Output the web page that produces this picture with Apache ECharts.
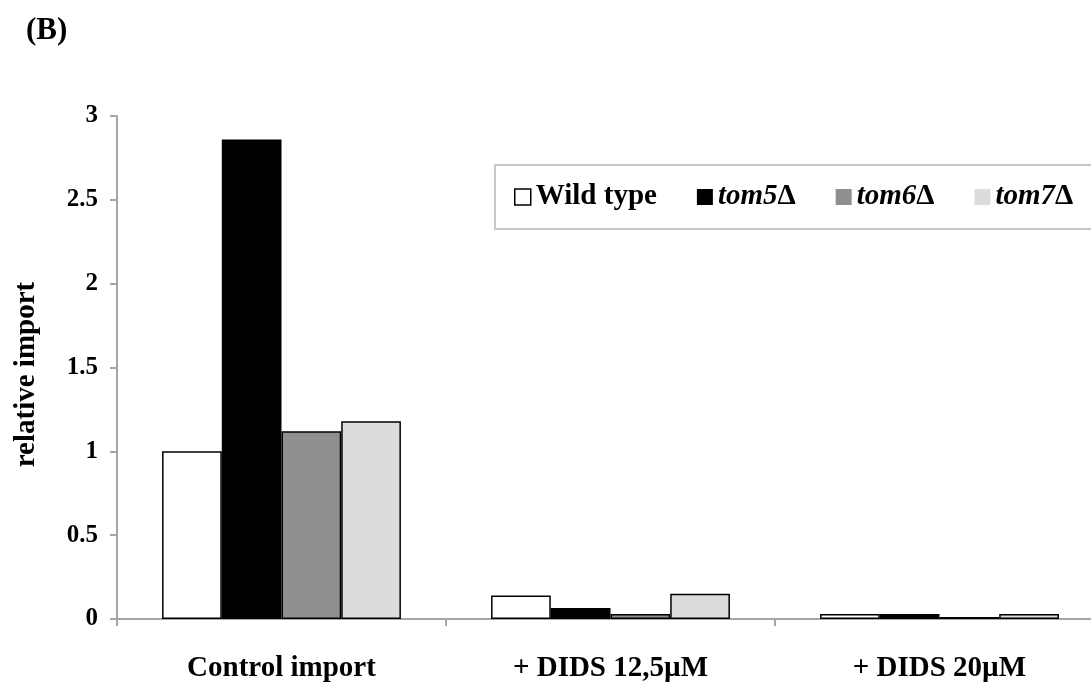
<!DOCTYPE html>
<html>
<head>
<meta charset="utf-8">
<script src="https://cdn.jsdelivr.net/npm/echarts@6/dist/echarts.min.js"></script>
<style>
html,body{margin:0;padding:0;background:#fff;}
#chart{width:1091px;height:684px;}
</style>
</head>
<body>
<div id="chart"></div>
<script>
const categories = ['Control import', '+ DIDS 12,5µM', '+ DIDS 20µM'];
const seriesNames = ['Wild type', 'tom5Δ', 'tom6Δ', 'tom7Δ'];
const wildType = [1.0, 0.14, 0.03];
const tom5 = [2.86, 0.065, 0.03];
const tom6 = [1.12, 0.03, 0.012];
const tom7 = [1.18, 0.15, 0.03];
const yTicks = [0, 0.5, 1, 1.5, 2, 2.5, 3];

const colors = ['#ffffff', '#000000', '#8f8f8f', '#dcdcdc'];
const values = [wildType, tom5, tom6, tom7];
const font = 'Liberation Serif, Times New Roman, serif';
const axisGray = '#a6a6a6';
const legendText = { fontFamily: font, fontSize: 29, fontWeight: 'bold', color: '#000', lineHeight: 30 };

const chart = echarts.init(document.getElementById('chart'));
chart.setOption({
  animation: false,
  backgroundColor: '#fff',
  title: {
    text: '(B)', left: 26, top: 15, padding: 0,
    textStyle: { fontFamily: font, fontSize: 31, fontWeight: 'bold', color: '#000' }
  },
  legend: {
    left: 495, top: 165, width: 620,
    padding: [17, 30, 17, 19],
    borderColor: '#c8c8c8', borderWidth: 2,
    itemWidth: 16, itemHeight: 16, itemGap: 40,
    icon: 'rect',
    formatter: function (name) {
      if (name.endsWith('Δ')) return '{i|' + name.slice(0, -1) + '}{n|Δ}';
      return '{n|' + name + '}';
    },
    textStyle: Object.assign({}, legendText, {
      rich: {
        i: Object.assign({}, legendText, { fontStyle: 'italic' }),
        n: Object.assign({}, legendText, { fontStyle: 'normal' })
      }
    }),
    data: seriesNames.map((n, i) => ({
      name: n,
      itemStyle: i === 0 ? { borderColor: '#000', borderWidth: 1.5 } : { borderWidth: 0 }
    }))
  },
  grid: { left: 117, width: 987, top: 116, bottom: 65, containLabel: false, outerBoundsMode: 'none' },
  xAxis: {
    type: 'category', data: categories,
    axisLine: { lineStyle: { color: axisGray, width: 2 } },
    axisTick: { show: true, length: 7, lineStyle: { color: axisGray, width: 2 } },
    axisLabel: { fontFamily: font, fontSize: 29, fontWeight: 'bold', color: '#000', margin: 35 }
  },
  yAxis: {
    type: 'value', min: yTicks[0], max: yTicks[yTicks.length - 1], interval: 0.5,
    name: 'relative import', nameLocation: 'middle', nameGap: 76,
    nameTextStyle: { fontFamily: font, fontSize: 29, fontWeight: 'bold', color: '#000', padding: [0, 14, 0, 0] },
    axisLine: { show: true, lineStyle: { color: axisGray, width: 2 } },
    axisTick: { show: true, length: 7, lineStyle: { color: axisGray, width: 2 } },
    splitLine: { show: false },
    axisLabel: { fontFamily: font, fontSize: 25, fontWeight: 'bold', color: '#000', margin: 19 }
  },
  series: seriesNames.map((n, i) => ({
    name: n, type: 'bar', data: values[i],
    barGap: '0%', barCategoryGap: '27.4%',
    itemStyle: { color: colors[i], borderColor: '#000', borderWidth: 1.5 }
  }))
});
</script>
</body>
</html>
